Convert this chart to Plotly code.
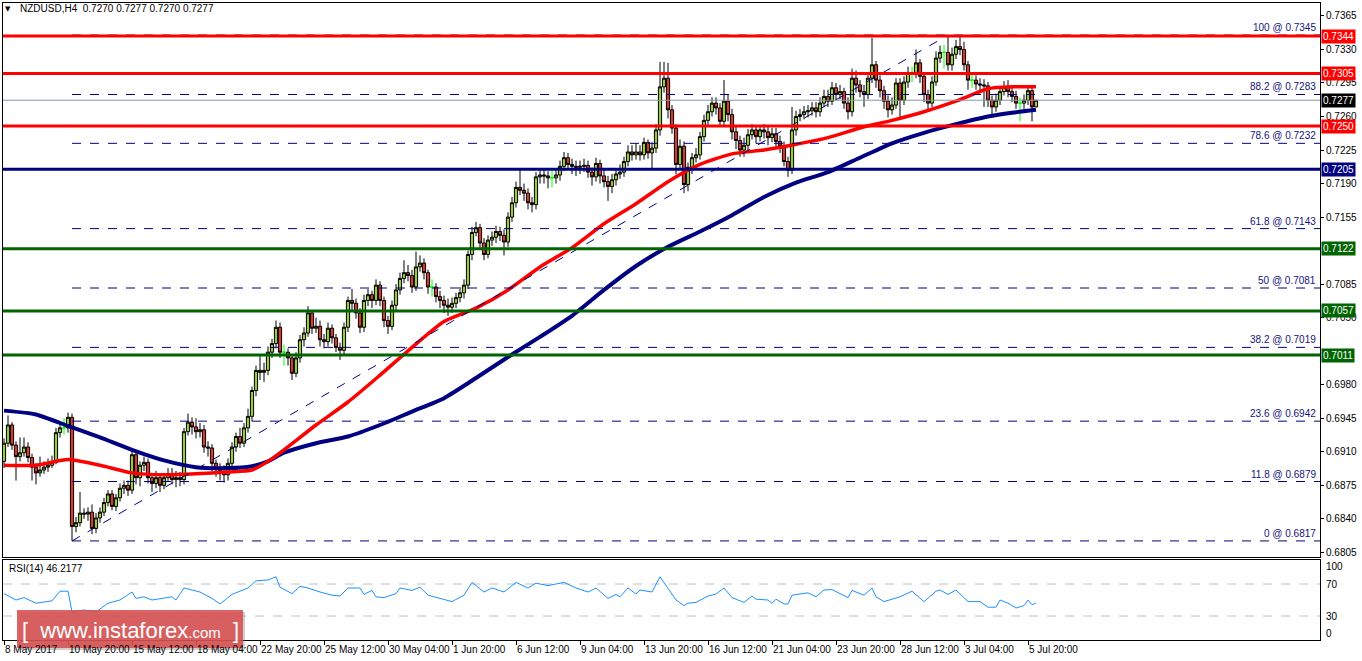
import plotly.graph_objects as go

# ---------------- data ----------------
first_open = 0.6900
closes = [
 0.6919,0.6938,0.6917,0.6905,0.6909,0.6915,0.6904,0.6894,0.6888,0.6891,
 0.6894,0.6896,0.6899,0.6930,0.6935,0.6935,0.6946,0.6832,0.6836,0.6846,
 0.6845,0.6847,0.6830,0.6841,0.6847,0.6857,0.6866,0.6853,0.6862,0.6872,
 0.6875,0.6870,0.6907,0.6883,0.6896,0.6899,0.6883,0.6877,0.6883,0.6875,
 0.6883,0.6887,0.6881,0.6883,0.6881,0.6931,0.6941,0.6936,0.6931,0.6933,
 0.6915,0.6914,0.6898,0.6893,0.6889,0.6886,0.6898,0.6915,0.6926,0.6919,
 0.6935,0.6947,0.6974,0.6995,0.6993,0.6995,0.7014,0.7023,0.7040,0.7014,
 0.7014,0.7008,0.6992,0.7008,0.7027,0.7034,0.7055,0.7039,0.7041,0.7027,
 0.7025,0.7039,0.7029,0.7019,0.7016,0.7040,0.7068,0.7065,0.7055,0.7040,
 0.7068,0.7074,0.7068,0.7084,0.7068,0.7047,0.7041,0.7063,0.7079,0.7091,
 0.7097,0.7094,0.7082,0.7103,0.7107,0.7097,0.7082,0.7082,0.7072,0.7068,
 0.7063,0.7061,0.7065,0.7071,0.7076,0.7084,0.7116,0.7139,0.7144,0.7128,
 0.7116,0.7131,0.7134,0.7140,0.7136,0.7129,0.7155,0.7170,0.7186,0.7183,
 0.7180,0.7170,0.7168,0.7197,0.7199,0.7198,0.7196,0.7196,0.7199,0.7208,
 0.7217,0.7210,0.7208,0.7207,0.7208,0.7209,0.7202,0.7197,0.7211,0.7198,
 0.7192,0.7187,0.7194,0.7200,0.7202,0.7213,0.7223,0.7220,0.7223,0.7220,
 0.7233,0.7222,0.7227,0.7246,0.7291,0.7300,0.7267,0.7248,0.7210,0.7229,
 0.7189,0.7207,0.7217,0.7220,0.7239,0.7256,0.7265,0.7274,0.7269,0.7255,
 0.7276,0.7262,0.7244,0.7235,0.7225,0.7230,0.7241,0.7246,0.7239,0.7246,
 0.7244,0.7238,0.7242,0.7234,0.7229,0.7213,0.7204,0.7246,0.7260,0.7262,
 0.7265,0.7266,0.7269,0.7265,0.7274,0.7281,0.7276,0.7290,0.7283,0.7286,
 0.7274,0.7265,0.7300,0.7293,0.7286,0.7283,0.7300,0.7314,0.7298,0.7287,
 0.7276,0.7267,0.7272,0.7295,0.7277,0.7296,0.7306,0.7306,0.7316,0.7302,
 0.7283,0.7274,0.7296,0.7321,0.7327,0.7327,0.7314,0.7325,0.7333,0.7330,
 0.7314,0.7298,0.7298,0.7294,0.7293,0.7292,0.7277,0.7270,0.7277,0.7286,
 0.7291,0.7286,0.7281,0.7274,0.7274,0.7277,0.7287,0.7270,0.7277]
highs = [
 0.6924,0.6948,0.6941,0.6921,0.6925,0.6925,0.6920,0.6908,0.6898,0.6905,
 0.6900,0.6903,0.6906,0.6935,0.6942,0.6945,0.6951,0.6950,0.6842,0.6868,
 0.6851,0.6852,0.6855,0.6846,0.6852,0.6862,0.6870,0.6870,0.6866,0.6877,
 0.6880,0.6880,0.6914,0.6912,0.6900,0.6905,0.6903,0.6888,0.6890,0.6887,
 0.6888,0.6893,0.6893,0.6890,0.6889,0.6935,0.6950,0.6946,0.6945,0.6940,
 0.6938,0.6921,0.6918,0.6902,0.6898,0.6896,0.6903,0.6920,0.6930,0.6935,
 0.6940,0.6955,0.6978,0.7000,0.7010,0.7003,0.7020,0.7028,0.7047,0.7045,
 0.7022,0.7018,0.7012,0.7014,0.7032,0.7040,0.7062,0.7058,0.7050,0.7047,
 0.7033,0.7045,0.7043,0.7033,0.7024,0.7045,0.7072,0.7080,0.7070,0.7060,
 0.7074,0.7080,0.7078,0.7090,0.7088,0.7072,0.7052,0.7068,0.7085,0.7097,
 0.7110,0.7105,0.7100,0.7119,0.7115,0.7112,0.7100,0.7090,0.7086,0.7078,
 0.7073,0.7070,0.7071,0.7076,0.7082,0.7090,0.7120,0.7145,0.7150,0.7148,
 0.7133,0.7136,0.7140,0.7146,0.7145,0.7142,0.7160,0.7176,0.7192,0.7206,
 0.7190,0.7185,0.7176,0.7202,0.7206,0.7205,0.7203,0.7203,0.7206,0.7214,
 0.7223,0.7222,0.7216,0.7214,0.7214,0.7216,0.7214,0.7207,0.7217,0.7215,
 0.7204,0.7198,0.7200,0.7206,0.7210,0.7218,0.7230,0.7230,0.7232,0.7230,
 0.7238,0.7236,0.7233,0.7252,0.7317,0.7317,0.7316,0.7272,0.7252,0.7236,
 0.7234,0.7212,0.7222,0.7227,0.7244,0.7262,0.7272,0.7280,0.7280,0.7274,
 0.7298,0.7283,0.7268,0.7250,0.7240,0.7238,0.7247,0.7252,0.7250,0.7251,
 0.7252,0.7250,0.7248,0.7248,0.7240,0.7234,0.7218,0.7270,0.7266,0.7268,
 0.7271,0.7272,0.7275,0.7275,0.7280,0.7288,0.7288,0.7296,0.7295,0.7293,
 0.7290,0.7280,0.7310,0.7308,0.7298,0.7293,0.7306,0.7342,0.7318,0.7303,
 0.7292,0.7282,0.7280,0.7300,0.7300,0.7302,0.7312,0.7312,0.7330,0.7320,
 0.7306,0.7288,0.7302,0.7328,0.7334,0.7335,0.7344,0.7332,0.7340,0.7345,
 0.7338,0.7318,0.7305,0.7303,0.7300,0.7299,0.7296,0.7282,0.7284,0.7292,
 0.7297,0.7298,0.7292,0.7287,0.7280,0.7283,0.7293,0.7292,0.7277]
lows = [
 0.6893,0.6915,0.6912,0.6880,0.6900,0.6905,0.6899,0.6880,0.6876,0.6884,
 0.6887,0.6889,0.6893,0.6897,0.6925,0.6928,0.6930,0.6817,0.6826,0.6832,
 0.6840,0.6838,0.6824,0.6825,0.6836,0.6843,0.6853,0.6849,0.6848,0.6858,
 0.6866,0.6864,0.6866,0.6876,0.6874,0.6890,0.6877,0.6868,0.6872,0.6868,
 0.6871,0.6879,0.6876,0.6873,0.6874,0.6876,0.6927,0.6928,0.6924,0.6925,
 0.6909,0.6905,0.6890,0.6884,0.6880,0.6878,0.6880,0.6893,0.6910,0.6914,
 0.6915,0.6930,0.6942,0.6968,0.6985,0.6983,0.6990,0.7008,0.7018,0.7008,
 0.7000,0.7000,0.6985,0.6988,0.7003,0.7020,0.7030,0.7033,0.7034,0.7020,
 0.7018,0.7020,0.7023,0.7014,0.7006,0.7012,0.7035,0.7058,0.7049,0.7034,
 0.7035,0.7062,0.7060,0.7063,0.7062,0.7040,0.7033,0.7037,0.7058,0.7074,
 0.7086,0.7088,0.7076,0.7078,0.7098,0.7090,0.7075,0.7072,0.7066,0.7060,
 0.7055,0.7052,0.7055,0.7060,0.7066,0.7070,0.7080,0.7110,0.7135,0.7122,
 0.7110,0.7112,0.7125,0.7128,0.7130,0.7115,0.7124,0.7150,0.7165,0.7178,
 0.7172,0.7163,0.7160,0.7163,0.7190,0.7190,0.7185,0.7186,0.7190,0.7193,
 0.7203,0.7204,0.7200,0.7198,0.7200,0.7202,0.7196,0.7188,0.7192,0.7190,
 0.7186,0.7172,0.7180,0.7188,0.7195,0.7197,0.7208,0.7214,0.7215,0.7214,
 0.7215,0.7216,0.7205,0.7222,0.7240,0.7285,0.7258,0.7242,0.7200,0.7205,
 0.7180,0.7182,0.7200,0.7212,0.7215,0.7234,0.7250,0.7260,0.7262,0.7249,
 0.7250,0.7255,0.7236,0.7226,0.7218,0.7218,0.7224,0.7236,0.7232,0.7234,
 0.7237,0.7230,0.7233,0.7228,0.7222,0.7208,0.7197,0.7200,0.7240,0.7255,
 0.7257,0.7259,0.7261,0.7259,0.7260,0.7270,0.7270,0.7272,0.7277,0.7278,
 0.7268,0.7257,0.7260,0.7285,0.7280,0.7270,0.7278,0.7295,0.7290,0.7280,
 0.7268,0.7259,0.7262,0.7268,0.7257,0.7272,0.7290,0.7296,0.7300,0.7295,
 0.7275,0.7267,0.7270,0.7292,0.7316,0.7310,0.7308,0.7308,0.7320,0.7324,
 0.7308,0.7288,0.7290,0.7288,0.7286,0.7270,0.7270,0.7262,0.7265,0.7272,
 0.7282,0.7280,0.7275,0.7268,0.7255,0.7268,0.7272,0.7255,0.7270]

ma_idx = [0,8,16,24,32,40,48,56,62,66,70,78,86,94,102,110,118,126,134,142,
          150,158,166,174,182,190,198,206,214,222,230,238,246,252,258]
red_ma = [0.6896,0.6896,0.6902,0.6896,0.6888,0.6886,0.6887,0.6889,0.6891,0.6900,
          0.6912,0.6938,0.6962,0.6990,0.7019,0.7046,0.7060,0.7079,0.7103,0.7123,
          0.7148,0.7169,0.7192,0.7210,0.7221,0.7225,0.7231,0.7238,0.7248,0.7256,
          0.7265,0.7276,0.7289,0.7291,0.7291]
navy_ma = [0.6953,0.6949,0.6937,0.6925,0.6912,0.6901,0.6894,0.6893,0.6895,0.6900,
           0.6909,0.6919,0.6926,0.6938,0.6952,0.6966,0.6987,0.7009,0.7030,0.7052,
           0.7079,0.7104,0.7124,0.7140,0.7157,0.7176,0.7191,0.7202,0.7217,0.7232,
           0.7243,0.7252,0.7260,0.7264,0.7267]

rsi_idx = [0,3,5,8,12,14,16,17,20,23,26,29,32,33,35,37,42,43,45,49,52,54,57,61,63,66,68,69,
           72,74,76,79,82,84,86,89,90,92,93,95,98,99,102,104,106,109,112,115,117,120,122,125,
           128,131,133,136,140,143,146,148,151,153,154,156,158,159,162,164,166,168,170,171,173,
           176,178,180,182,185,187,188,191,192,193,195,196,197,201,203,205,207,209,211,212,215,
           217,218,220,222,224,227,230,233,234,236,238,241,244,246,248,249,251,253,255,256,257,258]
rsi_val = [58,50,53,46,49,61,61,35,37.5,35,46,50,60,52,54,50,54,50,65,60,52,45,57,65,74,75,79,66,
           58,67,65,60,56,55,65,65,57,62,54,53,58,65,62,66,56,52,48,56,72,60,65,60,
           72,65,71,68,72,65,60,65,52,57,54,65,57.5,62.5,60,79,65,50,43,46,47,
           55,57.5,65,53,47,55,51,50,46,51,45,45,56,59,54,62.5,63,58,53,62,56,
           65,54,48,51,54,61,48,61,62.5,57,62.5,48,48,41,41,50,46,40,43,50,44,46.2]

red_levels = [0.7344, 0.7305, 0.7250]
navy_levels = [0.7205]
green_levels = [0.7122, 0.7057, 0.7011]
current_price = 0.7277
fib_pct = ["100", "88.2", "78.6", "61.8", "50", "38.2", "23.6", "11.8", "0"]
fib_vals = [0.7345, 0.7283, 0.7232, 0.7143, 0.7081, 0.7019, 0.6942, 0.6879, 0.6817]
fib_start = 17
fib_end = 236
price_ticks = [0.6805, 0.6840, 0.6875, 0.6910, 0.6945, 0.6980, 0.7050, 0.7085,
               0.7155, 0.7190, 0.7225, 0.7260, 0.7295, 0.7330, 0.7365]
time_labels = ["8 May 2017", "10 May 20:00", "15 May 12:00", "18 May 04:00", "22 May 20:00",
               "25 May 12:00", "30 May 04:00", "1 Jun 20:00", "6 Jun 12:00", "9 Jun 04:00",
               "13 Jun 20:00", "16 Jun 12:00", "21 Jun 04:00", "23 Jun 20:00", "28 Jun 12:00",
               "3 Jul 04:00", "5 Jul 20:00"]
time_label_idx = [16 * k for k in range(len(time_labels))]
title_text = "NZDUSD,H4  0.7270 0.7277 0.7270 0.7277"
rsi_text = "RSI(14) 46.2177"

# ---------------- geometry ----------------
W, H = 1362, 661
ML, MR, MT, MB = 3, 42, 3, 21
PW = W - ML - MR
PH = H - MT - MB
def px_x(px):
    return (px - ML) / PW
def px_y(py):
    return (H - MB - py) / PH

FONT = "Liberation Sans, Arial, DejaVu Sans, sans-serif"

opens = [first_open] + closes[:-1]
idx = list(range(len(closes)))
doji = [i for i in idx if opens[i] == closes[i]]
normal = [i for i in idx if opens[i] != closes[i]]

fig = go.Figure()

def sel(arr, ids):
    return [arr[i] for i in ids]

fig.add_trace(go.Candlestick(
    x=normal, open=sel(opens, normal), high=sel(highs, normal),
    low=sel(lows, normal), close=sel(closes, normal),
    increasing=dict(line=dict(color="black", width=1), fillcolor="#9ACD32"),
    decreasing=dict(line=dict(color="black", width=1), fillcolor="#D63A2E"),
    whiskerwidth=0, hoverinfo="skip", showlegend=False, xaxis="x", yaxis="y"))
fig.add_trace(go.Candlestick(
    x=doji, open=sel(opens, doji), high=sel(highs, doji),
    low=sel(lows, doji), close=sel(closes, doji),
    increasing=dict(line=dict(color="#00FF00", width=1), fillcolor="#00FF00"),
    decreasing=dict(line=dict(color="#00FF00", width=1), fillcolor="#00FF00"),
    whiskerwidth=0, hoverinfo="skip", showlegend=False, xaxis="x", yaxis="y"))

fig.add_trace(go.Scatter(x=ma_idx, y=navy_ma, mode="lines",
                         line=dict(color="#000080", width=4, shape="spline", smoothing=0.6),
                         hoverinfo="skip", showlegend=False, xaxis="x", yaxis="y"))
fig.add_trace(go.Scatter(x=ma_idx, y=red_ma, mode="lines",
                         line=dict(color="#FF0000", width=3.5, shape="spline", smoothing=0.6),
                         hoverinfo="skip", showlegend=False, xaxis="x", yaxis="y"))

fig.add_trace(go.Scatter(x=rsi_idx, y=rsi_val, mode="lines",
                         line=dict(color="#1E90FF", width=1), hoverinfo="skip",
                         showlegend=False, xaxis="x2", yaxis="y2"))

XMAX = 329.0
shapes = []
for v in fib_vals:
    shapes.append(dict(type="line", xref="x", yref="y", x0=fib_start, x1=XMAX, y0=v, y1=v,
                       line=dict(color="#000080", width=1, dash="dash"), layer="above"))
shapes.append(dict(type="line", xref="x", yref="y", x0=fib_start, x1=fib_end,
                   y0=fib_vals[-1], y1=fib_vals[0],
                   line=dict(color="#000080", width=1, dash="dash"), layer="above"))
shapes.append(dict(type="line", xref="paper", yref="y", x0=0, x1=1, y0=current_price,
                   y1=current_price, line=dict(color="#8497A8", width=1), layer="above"))
for v in red_levels:
    shapes.append(dict(type="line", xref="paper", yref="y", x0=0, x1=1, y0=v, y1=v,
                       line=dict(color="#FF0000", width=3), layer="above"))
for v in navy_levels:
    shapes.append(dict(type="line", xref="paper", yref="y", x0=0, x1=1, y0=v, y1=v,
                       line=dict(color="#000080", width=3), layer="above"))
for v in green_levels:
    shapes.append(dict(type="line", xref="paper", yref="y", x0=0, x1=1, y0=v, y1=v,
                       line=dict(color="#006400", width=3), layer="above"))
for v in [70, 30]:
    shapes.append(dict(type="line", xref="paper", yref="y2", x0=0, x1=1, y0=v, y1=v,
                       line=dict(color="#C0C0C0", width=1, dash="dash"), layer="below"))
shapes.append(dict(type="rect", xref="paper", yref="paper",
                   x0=px_x(19), x1=px_x(245), y0=px_y(650), y1=px_y(612),
                   fillcolor="rgba(120,120,120,0.35)", line=dict(width=0), layer="above"))
shapes.append(dict(type="rect", xref="paper", yref="paper",
                   x0=px_x(17), x1=px_x(243), y0=px_y(648), y1=px_y(610),
                   fillcolor="rgba(216,78,78,0.88)", line=dict(width=0), layer="above"))

ann = []
ann.append(dict(text="▼", x=px_x(8), y=px_y(9), xref="paper", yref="paper",
                xanchor="center", yanchor="middle", showarrow=False,
                font=dict(family="DejaVu Sans", size=7, color="black")))
ann.append(dict(text=title_text, x=px_x(18), y=px_y(9), xref="paper", yref="paper",
                xanchor="left", yanchor="middle", showarrow=False,
                font=dict(family=FONT, size=10, color="black")))
ann.append(dict(text=rsi_text, x=px_x(7), y=px_y(568), xref="paper", yref="paper",
                xanchor="left", yanchor="middle", showarrow=False,
                font=dict(family=FONT, size=10, color="black")))
for p, v in zip(fib_pct, fib_vals):
    ann.append(dict(text=f"{p} @ {v:.4f}", x=1, xshift=-2, y=v, xref="paper", yref="y",
                    xanchor="right", yanchor="bottom", showarrow=False,
                    font=dict(family=FONT, size=10, color="#141478")))

def level_box(v, color):
    return dict(text=f"{v:.4f}", x=1, xshift=1, y=v, xref="paper", yref="y",
                xanchor="left", yanchor="middle", showarrow=False, bgcolor=color,
                borderpad=1, font=dict(family=FONT, size=10, color="white"))
for v in red_levels:
    ann.append(level_box(v, "#FF0000"))
for v in navy_levels:
    ann.append(level_box(v, "#000080"))
for v in green_levels:
    ann.append(level_box(v, "#006400"))
ann.append(level_box(current_price, "#000000"))

for lab, ypx in zip(["100", "70", "30", "0"], [566, 584, 616, 633]):
    ann.append(dict(text=lab, x=1, xshift=4, y=px_y(ypx), xref="paper", yref="paper",
                    xanchor="left", yanchor="middle", showarrow=False,
                    font=dict(family=FONT, size=10, color="black")))

for lab, i in zip(time_labels, time_label_idx):
    ann.append(dict(text=lab, x=i, xref="x2", y=px_y(649), yref="paper",
                    xanchor="left", yanchor="middle", showarrow=False, xshift=-1,
                    font=dict(family=FONT, size=10, color="black")))

ann.append(dict(text="[  www.instaforex<span style='font-size:15px'>.com</span>  ]",
                x=px_x(130), y=px_y(630), xref="paper", yref="paper",
                xanchor="center", yanchor="middle", showarrow=False,
                font=dict(family=FONT, size=22, color="white")))

main_bottom = px_y(557)
rsi_top = px_y(560)

fig.update_layout(
    width=W, height=H,
    margin=dict(l=ML, r=MR, t=MT, b=MB),
    paper_bgcolor="white", plot_bgcolor="white",
    showlegend=False, boxgap=0.2, boxgroupgap=0.0,
    shapes=shapes, annotations=ann,
    xaxis=dict(domain=[0, 1], range=[-0.25, XMAX], showgrid=False, zeroline=False,
               showticklabels=False, ticks="", showline=True, linecolor="black",
               linewidth=1, mirror=True, anchor="y", rangeslider=dict(visible=False),
               fixedrange=True),
    yaxis=dict(domain=[main_bottom, 1], range=[0.68002, 0.73785], side="right",
               tickvals=price_ticks, ticktext=[f"{t:.4f}" for t in price_ticks],
               ticks="outside", ticklen=3, tickcolor="black", showgrid=False,
               zeroline=False, showline=True, linecolor="black", linewidth=1,
               mirror=True, anchor="x",
               tickfont=dict(family=FONT, size=10, color="black")),
    xaxis2=dict(domain=[0, 1], range=[-0.25, XMAX], showgrid=False, zeroline=False,
                tickvals=time_label_idx, showticklabels=False, ticks="outside",
                ticklen=4, tickcolor="black", showline=True, linecolor="black",
                linewidth=1, mirror=True, anchor="y2"),
    yaxis2=dict(domain=[0, rsi_top], range=[0, 100], showgrid=False, zeroline=False,
                showticklabels=False, ticks="", showline=True, linecolor="black",
                linewidth=1, mirror=True, anchor="x2", side="right"),
)

fig.write_html("out.html", config={"staticPlot": True},
               post_script="document.body.style.margin='0';document.body.style.overflow='hidden';")
